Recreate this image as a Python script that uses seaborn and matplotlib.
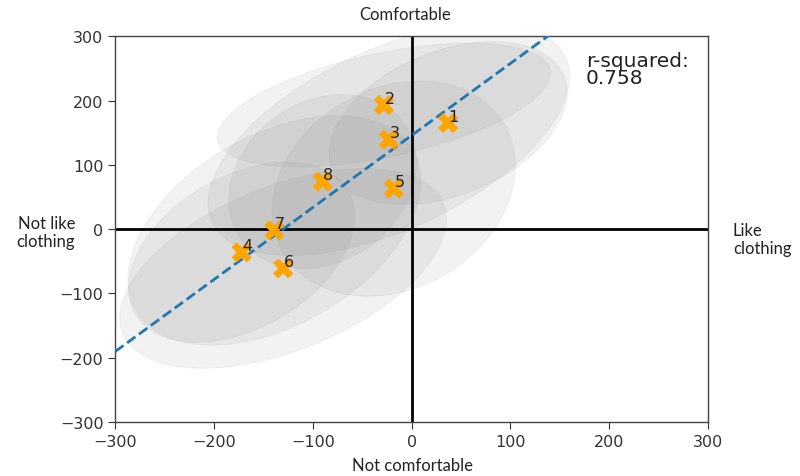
import numpy as np
import pandas as pd
import matplotlib
matplotlib.use("Agg")
import matplotlib.pyplot as plt
from matplotlib.patches import Ellipse
from matplotlib.transforms import ScaledTranslation
import seaborn as sns

# ---- data ----
labels = ["1", "2", "3", "4", "5", "6", "7", "8"]
x_vals = [37, -28, -23, -172, -18, -130, -139, -90]
y_vals = [165, 193, 139, -36, 63, -61, -2, 74]
# spread ellipses around each item: semi-major, semi-minor (inches), angle (deg)
ell_a = [1.25, 1.70, 1.95, 1.23, 1.28, 1.73, 1.60, 1.00]
ell_b = [0.72, 0.52, 0.90, 0.76, 1.00, 0.82, 0.95, 0.80]
ell_angle = [22, 12, 25, 30, 30, 22, 30, 35]
r_squared_text = "0.758"
x_ticks = [-300, -200, -100, 0, 100, 200, 300]
y_ticks = [-300, -200, -100, 0, 100, 200, 300]

df = pd.DataFrame({"x": x_vals, "y": y_vals, "label": labels})

sns.set_style("ticks")
plt.rcParams["font.family"] = ["DejaVu Sans"]

fig = plt.figure(figsize=(8, 4.77), dpi=100)
ax = fig.add_axes([0.144, 0.113, 0.741, 0.809])
ax.set_xlim(-300, 300)
ax.set_ylim(-300, 300)

for xi, yi, a, b, ang in zip(x_vals, y_vals, ell_a, ell_b, ell_angle):
    tr = fig.dpi_scale_trans + ScaledTranslation(xi, yi, ax.transData)
    e = Ellipse((0, 0), 2 * a, 2 * b, angle=ang, transform=tr,
                facecolor="grey", alpha=0.1, edgecolor="grey", lw=0.6, zorder=1)
    ax.add_patch(e)

ax.axhline(0, color="black", lw=2, zorder=2)
ax.axvline(0, color="black", lw=2, zorder=2)

sns.regplot(data=df, x="x", y="y", scatter=False, ci=None, truncate=False,
            ax=ax, line_kws=dict(ls="--", color="#1f77b4", lw=2, zorder=3))

sns.scatterplot(data=df, x="x", y="y", marker="X", s=210, color="orange",
                edgecolor="none", ax=ax, zorder=4, legend=False)

for xi, yi, lab in zip(x_vals, y_vals, labels):
    ax.annotate(lab, (xi, yi), xytext=(4, 5), textcoords="offset points",
                ha="center", va="center", fontsize=11.5, color="#222222", zorder=5)

ax.set_xlim(-300, 300)
ax.set_ylim(-300, 300)
ax.set_xticks(x_ticks)
ax.set_yticks(y_ticks)
ax.tick_params(labelsize=11.5, colors="#333333", length=5)
ax.set_xlabel("")
ax.set_ylabel("")
for s in ax.spines.values():
    s.set_color("#444444")
    s.set_linewidth(1)

ax.text(0.794, 0.962, "r-squared:\n" + r_squared_text, transform=ax.transAxes,
        fontsize=14.5, va="top", ha="left", linespacing=0.85, color="#222222")

lab_font = ["Lato", "DejaVu Sans"]
fig.text(405 / 800, 1 - 15 / 477, "Comfortable", ha="center", va="center",
         fontsize=12, family=lab_font, color="#222222")
fig.text(412 / 800, 1 - 466 / 477, "Not comfortable", ha="center", va="center",
         fontsize=12, family=lab_font, color="#222222")
fig.text(75 / 800, 1 - 233 / 477, "Not like\nclothing", ha="right", va="center",
         fontsize=12, family=lab_font, color="#222222", multialignment="right")
fig.text(733 / 800, 1 - 240 / 477, "Like\nclothing", ha="left", va="center",
         fontsize=12, family=lab_font, color="#222222")

fig.savefig("out.png", dpi=100)
